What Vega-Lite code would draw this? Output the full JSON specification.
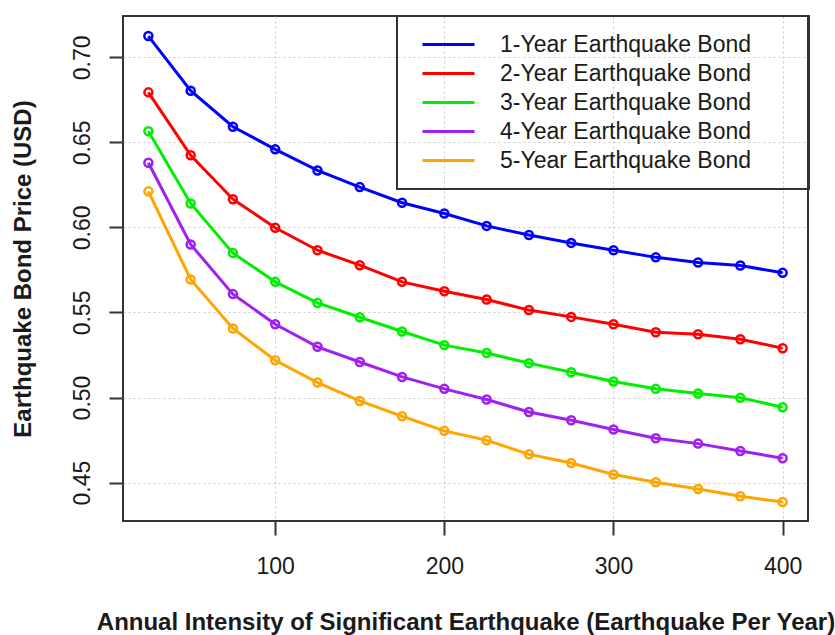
{
  "$schema": "https://vega.github.io/schema/vega-lite/v6.json",
  "width": 685,
  "height": 505,
  "autosize": {"type": "none"},
  "padding": {"left": 123, "top": 16, "right": 27, "bottom": 114},
  "background": "white",
  "config": {
    "view": {"stroke": "#333333", "strokeWidth": 2},
    "font": "Liberation Sans"
  },
  "datasets": {
    "bonds": [
      {"x": 25, "bond": "1-Year Earthquake Bond", "price": 0.7125},
      {"x": 50, "bond": "1-Year Earthquake Bond", "price": 0.6804},
      {"x": 75, "bond": "1-Year Earthquake Bond", "price": 0.6592},
      {"x": 100, "bond": "1-Year Earthquake Bond", "price": 0.6459},
      {"x": 125, "bond": "1-Year Earthquake Bond", "price": 0.6335},
      {"x": 150, "bond": "1-Year Earthquake Bond", "price": 0.6237},
      {"x": 175, "bond": "1-Year Earthquake Bond", "price": 0.6145},
      {"x": 200, "bond": "1-Year Earthquake Bond", "price": 0.6082},
      {"x": 225, "bond": "1-Year Earthquake Bond", "price": 0.6009},
      {"x": 250, "bond": "1-Year Earthquake Bond", "price": 0.5955},
      {"x": 275, "bond": "1-Year Earthquake Bond", "price": 0.5909},
      {"x": 300, "bond": "1-Year Earthquake Bond", "price": 0.5866},
      {"x": 325, "bond": "1-Year Earthquake Bond", "price": 0.5824},
      {"x": 350, "bond": "1-Year Earthquake Bond", "price": 0.5794},
      {"x": 375, "bond": "1-Year Earthquake Bond", "price": 0.5776},
      {"x": 400, "bond": "1-Year Earthquake Bond", "price": 0.5733},
      {"x": 25, "bond": "2-Year Earthquake Bond", "price": 0.6794},
      {"x": 50, "bond": "2-Year Earthquake Bond", "price": 0.6424},
      {"x": 75, "bond": "2-Year Earthquake Bond", "price": 0.6166},
      {"x": 100, "bond": "2-Year Earthquake Bond", "price": 0.5998},
      {"x": 125, "bond": "2-Year Earthquake Bond", "price": 0.5866},
      {"x": 150, "bond": "2-Year Earthquake Bond", "price": 0.5778},
      {"x": 175, "bond": "2-Year Earthquake Bond", "price": 0.5680},
      {"x": 200, "bond": "2-Year Earthquake Bond", "price": 0.5625},
      {"x": 225, "bond": "2-Year Earthquake Bond", "price": 0.5576},
      {"x": 250, "bond": "2-Year Earthquake Bond", "price": 0.5514},
      {"x": 275, "bond": "2-Year Earthquake Bond", "price": 0.5474},
      {"x": 300, "bond": "2-Year Earthquake Bond", "price": 0.5431},
      {"x": 325, "bond": "2-Year Earthquake Bond", "price": 0.5384},
      {"x": 350, "bond": "2-Year Earthquake Bond", "price": 0.5372},
      {"x": 375, "bond": "2-Year Earthquake Bond", "price": 0.5343},
      {"x": 400, "bond": "2-Year Earthquake Bond", "price": 0.5290},
      {"x": 25, "bond": "3-Year Earthquake Bond", "price": 0.6565},
      {"x": 50, "bond": "3-Year Earthquake Bond", "price": 0.6141},
      {"x": 75, "bond": "3-Year Earthquake Bond", "price": 0.5849},
      {"x": 100, "bond": "3-Year Earthquake Bond", "price": 0.5680},
      {"x": 125, "bond": "3-Year Earthquake Bond", "price": 0.5556},
      {"x": 150, "bond": "3-Year Earthquake Bond", "price": 0.5472},
      {"x": 175, "bond": "3-Year Earthquake Bond", "price": 0.5388},
      {"x": 200, "bond": "3-Year Earthquake Bond", "price": 0.5308},
      {"x": 225, "bond": "3-Year Earthquake Bond", "price": 0.5262},
      {"x": 250, "bond": "3-Year Earthquake Bond", "price": 0.5202},
      {"x": 275, "bond": "3-Year Earthquake Bond", "price": 0.5149},
      {"x": 300, "bond": "3-Year Earthquake Bond", "price": 0.5094},
      {"x": 325, "bond": "3-Year Earthquake Bond", "price": 0.5051},
      {"x": 350, "bond": "3-Year Earthquake Bond", "price": 0.5024},
      {"x": 375, "bond": "3-Year Earthquake Bond", "price": 0.4998},
      {"x": 400, "bond": "3-Year Earthquake Bond", "price": 0.4943},
      {"x": 25, "bond": "4-Year Earthquake Bond", "price": 0.6380},
      {"x": 50, "bond": "4-Year Earthquake Bond", "price": 0.5900},
      {"x": 75, "bond": "4-Year Earthquake Bond", "price": 0.5608},
      {"x": 100, "bond": "4-Year Earthquake Bond", "price": 0.5431},
      {"x": 125, "bond": "4-Year Earthquake Bond", "price": 0.5298},
      {"x": 150, "bond": "4-Year Earthquake Bond", "price": 0.5209},
      {"x": 175, "bond": "4-Year Earthquake Bond", "price": 0.5121},
      {"x": 200, "bond": "4-Year Earthquake Bond", "price": 0.5051},
      {"x": 225, "bond": "4-Year Earthquake Bond", "price": 0.4988},
      {"x": 250, "bond": "4-Year Earthquake Bond", "price": 0.4915},
      {"x": 275, "bond": "4-Year Earthquake Bond", "price": 0.4866},
      {"x": 300, "bond": "4-Year Earthquake Bond", "price": 0.4812},
      {"x": 325, "bond": "4-Year Earthquake Bond", "price": 0.4761},
      {"x": 350, "bond": "4-Year Earthquake Bond", "price": 0.4729},
      {"x": 375, "bond": "4-Year Earthquake Bond", "price": 0.4686},
      {"x": 400, "bond": "4-Year Earthquake Bond", "price": 0.4643},
      {"x": 25, "bond": "5-Year Earthquake Bond", "price": 0.6212},
      {"x": 50, "bond": "5-Year Earthquake Bond", "price": 0.5694},
      {"x": 75, "bond": "5-Year Earthquake Bond", "price": 0.5406},
      {"x": 100, "bond": "5-Year Earthquake Bond", "price": 0.5219},
      {"x": 125, "bond": "5-Year Earthquake Bond", "price": 0.5088},
      {"x": 150, "bond": "5-Year Earthquake Bond", "price": 0.4980},
      {"x": 175, "bond": "5-Year Earthquake Bond", "price": 0.4890},
      {"x": 200, "bond": "5-Year Earthquake Bond", "price": 0.4804},
      {"x": 225, "bond": "5-Year Earthquake Bond", "price": 0.4749},
      {"x": 250, "bond": "5-Year Earthquake Bond", "price": 0.4666},
      {"x": 275, "bond": "5-Year Earthquake Bond", "price": 0.4615},
      {"x": 300, "bond": "5-Year Earthquake Bond", "price": 0.4547},
      {"x": 325, "bond": "5-Year Earthquake Bond", "price": 0.4502},
      {"x": 350, "bond": "5-Year Earthquake Bond", "price": 0.4462},
      {"x": 375, "bond": "5-Year Earthquake Bond", "price": 0.4419},
      {"x": 400, "bond": "5-Year Earthquake Bond", "price": 0.4386}
    ]
  },
  "data": {"name": "bonds"},
  "encoding": {
    "x": {
      "field": "x",
      "type": "quantitative",
      "scale": {"domain": [10, 415], "nice": false, "zero": false},
      "axis": {
        "values": [100, 200, 300, 400],
        "format": "d",
        "domain": false,
        "tickSize": 14,
        "tickWidth": 2,
        "tickColor": "#333333",
        "labelFontSize": 23,
        "labelColor": "#1a1a1a",
        "labelPadding": 20,
        "labelFlush": false,
        "labelOverlap": false,
        "grid": true,
        "gridDash": [2, 3],
        "gridColor": "#c8c8c8",
        "gridWidth": 1,
        "title": "Annual Intensity of Significant Earthquake (Earthquake Per Year)",
        "titleFontSize": 24,
        "titleFontWeight": "bold",
        "titleColor": "#1a1a1a",
        "titlePadding": 32
      }
    },
    "y": {
      "field": "price",
      "type": "quantitative",
      "scale": {"domain": [0.4274, 0.7243], "nice": false, "zero": false},
      "axis": {
        "values": [0.45, 0.5, 0.55, 0.6, 0.65, 0.7],
        "format": ".2f",
        "domain": false,
        "tickSize": 14,
        "tickWidth": 2,
        "tickColor": "#333333",
        "labelFontSize": 23,
        "labelColor": "#1a1a1a",
        "labelAngle": -90,
        "labelAlign": "center",
        "labelBaseline": "alphabetic",
        "labelPadding": 20,
        "labelFlush": false,
        "labelOverlap": false,
        "grid": true,
        "gridDash": [2, 3],
        "gridColor": "#c8c8c8",
        "gridWidth": 1,
        "title": "Earthquake Bond Price (USD)",
        "titleFontSize": 24,
        "titleFontWeight": "bold",
        "titleColor": "#1a1a1a",
        "titlePadding": 36
      }
    },
    "color": {
      "field": "bond",
      "type": "nominal",
      "scale": {
        "domain": ["1-Year Earthquake Bond", "2-Year Earthquake Bond", "3-Year Earthquake Bond", "4-Year Earthquake Bond", "5-Year Earthquake Bond"],
        "range": ["#0000ff", "#ff0000", "#00ee00", "#a020f0", "#ffa500"]
      },
      "legend": {
        "title": "\u00a0",
        "titleOrient": "right",
        "titleFontSize": 8,
        "titlePadding": 44,
        "orient": "none",
        "legendX": 274,
        "legendY": 0,
        "symbolType": "stroke",
        "symbolSize": 2704,
        "symbolStrokeWidth": 3,
        "symbolOffset": 10,
        "labelFontSize": 23,
        "labelFont": "Liberation Sans",
        "labelColor": "#1a1a1a",
        "labelOffset": 24,
        "labelLimit": 600,
        "padding": 14,
        "clipHeight": 29,
        "rowPadding": 0,
        "strokeColor": "#333333",
        "encode": {"legend": {"update": {"strokeWidth": {"value": 2}}}}
      }
    }
  },
  "layer": [
    {"mark": {"type": "line", "strokeWidth": 3}},
    {"mark": {"type": "point", "shape": "circle", "filled": false, "size": 64, "strokeWidth": 2.5, "opacity": 1}}
  ]
}
